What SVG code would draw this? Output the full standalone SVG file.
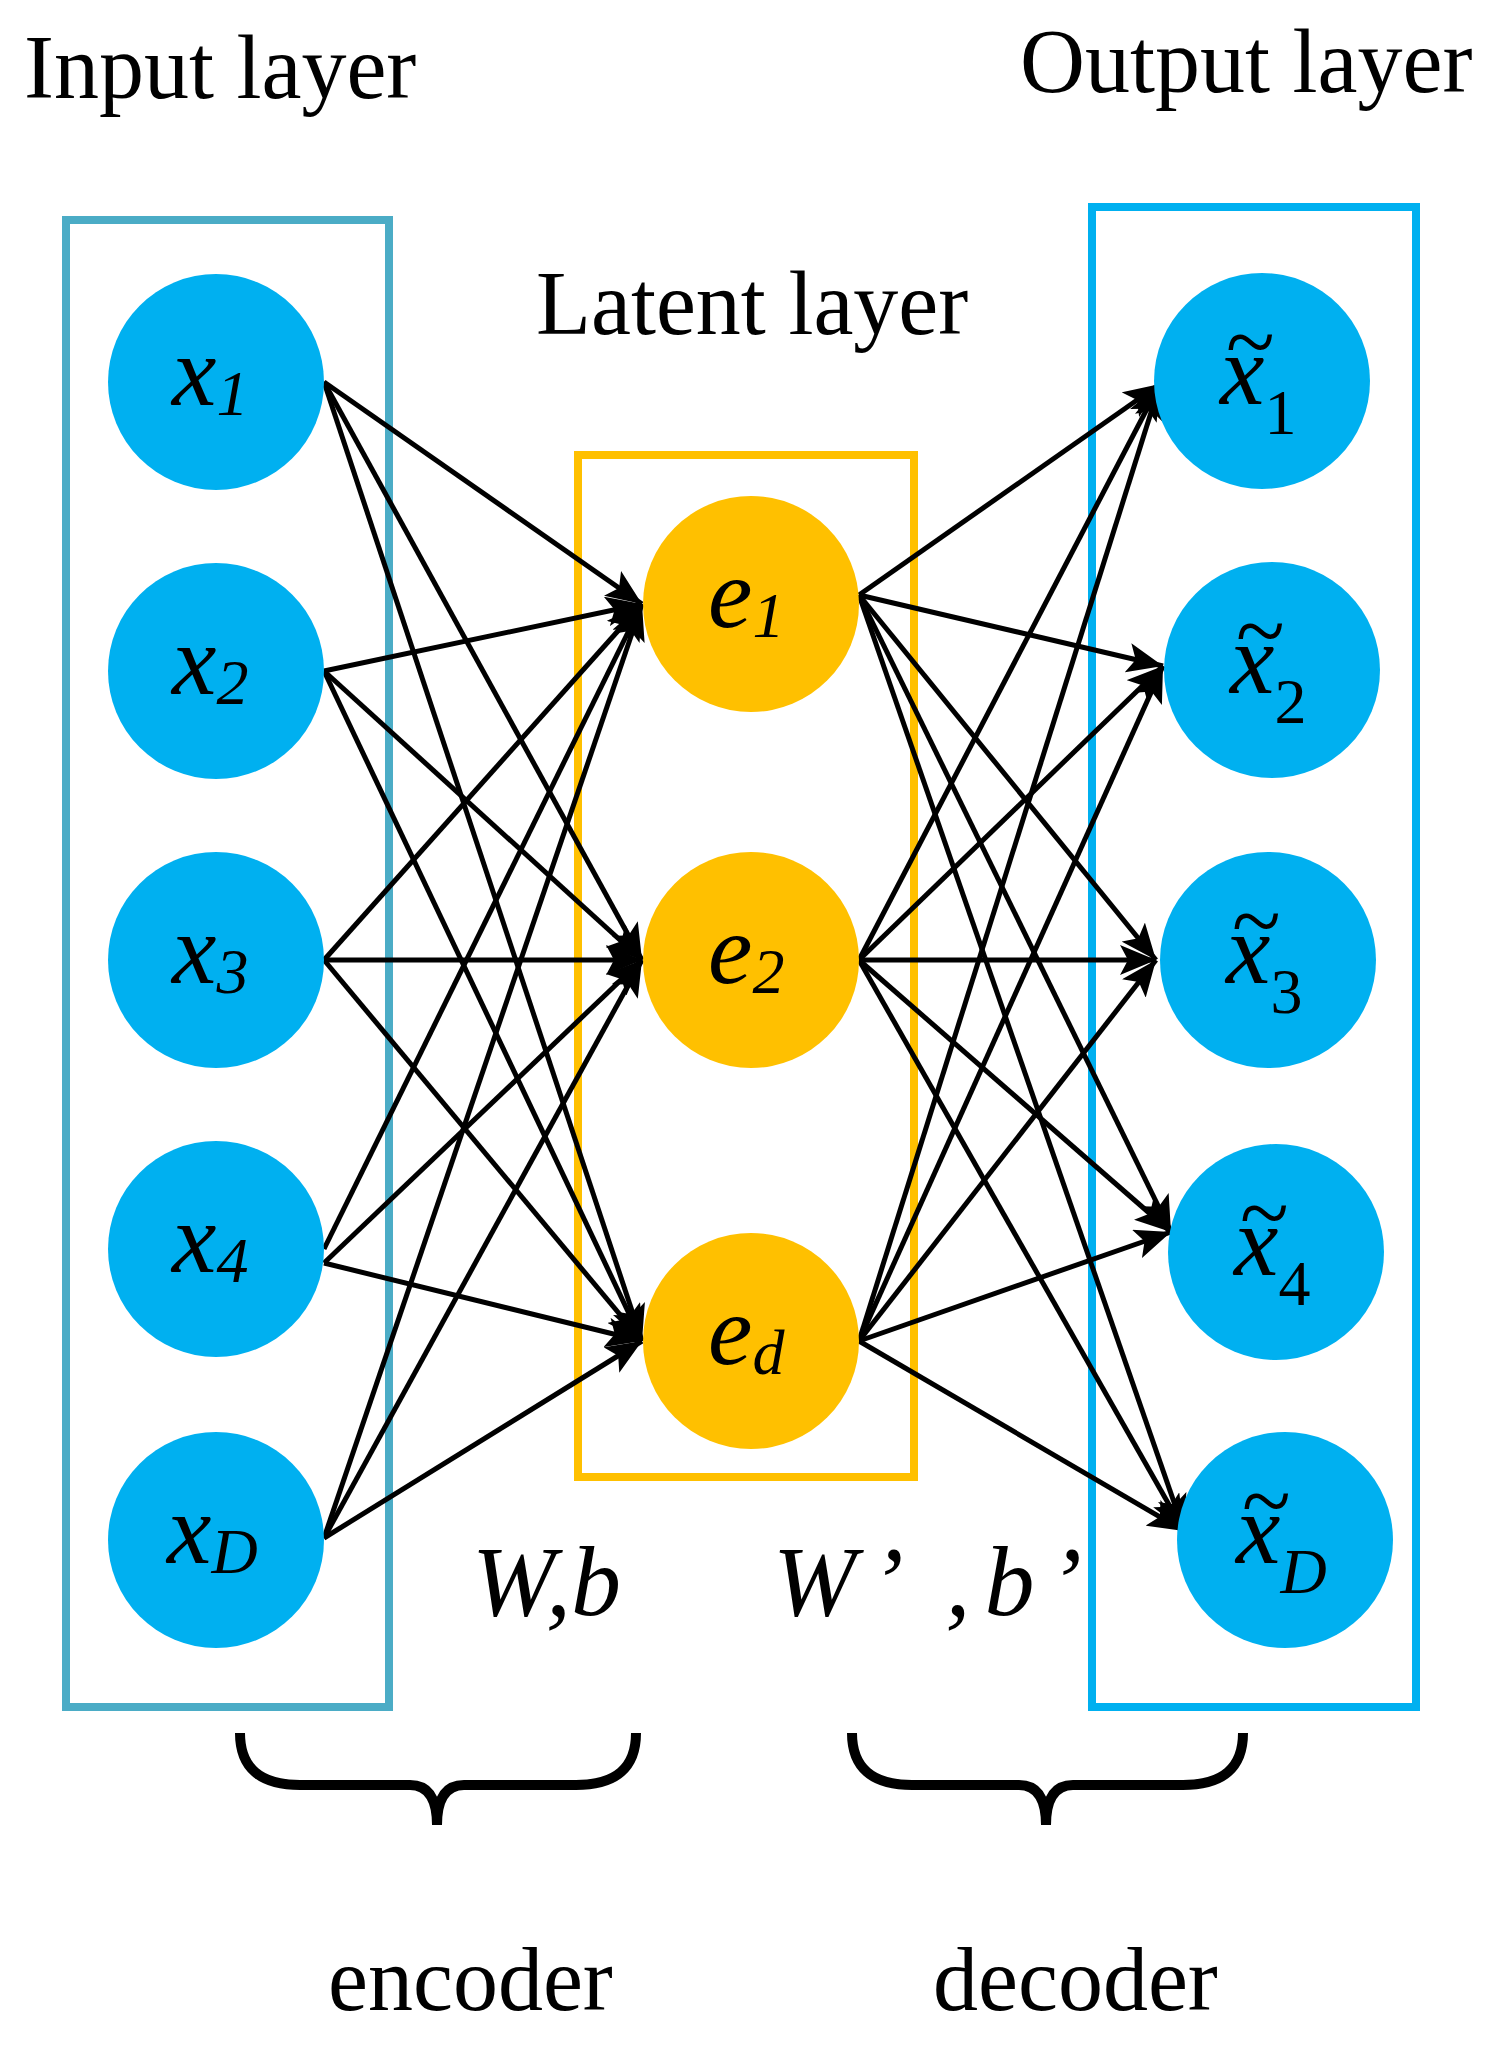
<svg xmlns="http://www.w3.org/2000/svg" width="1508" height="2047" viewBox="0 0 1508 2047">
<style>
.t{font-family:"Liberation Serif",serif;fill:#000}
.i{font-family:"Liberation Serif",serif;font-style:italic;fill:#000;font-size:100px}
.s{font-size:64px}
.u{font-style:normal}
.w{font-family:"Liberation Serif",serif;fill:#000;font-size:90px}
.b{fill:#00b0f0}
.y{fill:#ffc000}
.c line{stroke:#000;stroke-width:5;marker-end:url(#a)}
</style>
<defs>
<marker id="a" markerUnits="userSpaceOnUse" markerWidth="38" markerHeight="30" refX="36" refY="15" orient="auto"><path d="M0,0 L36,15 L0,30 L8,15 Z" fill="#000"/></marker>
</defs>
<rect x="66" y="220" width="323" height="1487" fill="none" stroke="#4bacc6" stroke-width="8"/>
<rect x="578" y="455" width="336" height="1022" fill="none" stroke="#ffc000" stroke-width="8"/>
<rect x="1092" y="207" width="324" height="1500" fill="none" stroke="#00b0f0" stroke-width="8"/>
<text class="t" x="24" y="98" font-size="90">Input layer</text>
<text class="t" x="1020" y="92" font-size="90">Output layer</text>
<text class="t" x="536" y="334" font-size="90">Latent layer</text>
<g class="c">
<line x1="324" y1="382" x2="642" y2="604"/><line x1="324" y1="382" x2="642" y2="960"/><line x1="324" y1="382" x2="642" y2="1341"/>
<line x1="324" y1="671" x2="642" y2="604"/><line x1="324" y1="671" x2="642" y2="960"/><line x1="324" y1="671" x2="642" y2="1341"/>
<line x1="324" y1="960" x2="642" y2="604"/><line x1="324" y1="960" x2="642" y2="960"/><line x1="324" y1="960" x2="642" y2="1341"/>
<line x1="324" y1="1249" x2="642" y2="604"/><line x1="324" y1="1263" x2="642" y2="960"/><line x1="324" y1="1263" x2="642" y2="1341"/>
<line x1="324" y1="1538" x2="642" y2="604"/><line x1="324" y1="1538" x2="642" y2="960"/><line x1="324" y1="1538" x2="642" y2="1341"/>
<line x1="859" y1="595" x2="1160" y2="384"/><line x1="859" y1="595" x2="1163" y2="666"/><line x1="859" y1="595" x2="1156" y2="960"/><line x1="859" y1="595" x2="1171" y2="1232"/><line x1="859" y1="595" x2="1184" y2="1531"/>
<line x1="859" y1="960" x2="1160" y2="384"/><line x1="859" y1="960" x2="1163" y2="666"/><line x1="859" y1="960" x2="1156" y2="960"/><line x1="859" y1="960" x2="1171" y2="1232"/><line x1="859" y1="960" x2="1184" y2="1531"/>
<line x1="859" y1="1341" x2="1160" y2="384"/><line x1="859" y1="1341" x2="1163" y2="666"/><line x1="859" y1="1341" x2="1156" y2="960"/><line x1="859" y1="1341" x2="1171" y2="1232"/><line x1="859" y1="1341" x2="1184" y2="1531"/>
</g>
<g id="x1"><circle class="b" cx="216" cy="382" r="108"/><text class="i" x="172" y="405">x<tspan class="s" dy="10">1</tspan></text></g>
<g id="x2"><circle class="b" cx="216" cy="671" r="108"/><text class="i" x="172" y="694">x<tspan class="s" dy="10">2</tspan></text></g>
<g id="x3"><circle class="b" cx="216" cy="960" r="108"/><text class="i" x="172" y="983">x<tspan class="s" dy="10">3</tspan></text></g>
<g id="x4"><circle class="b" cx="216" cy="1249" r="108"/><text class="i" x="172" y="1272">x<tspan class="s" dy="10">4</tspan></text></g>
<g id="xD"><circle class="b" cx="216" cy="1540" r="108"/><text class="i" x="167" y="1563">x<tspan class="s" dy="10">D</tspan></text></g>
<g id="e1"><circle class="y" cx="751" cy="604" r="108"/><text class="i" x="708" y="627">e<tspan class="s" dy="10">1</tspan></text></g>
<g id="e2"><circle class="y" cx="751" cy="960" r="108"/><text class="i" x="708" y="983">e<tspan class="s" dy="10">2</tspan></text></g>
<g id="ed"><circle class="y" cx="751" cy="1341" r="108"/><text class="i" x="708" y="1364">e<tspan class="s" dy="10">d</tspan></text></g>
<g id="o1"><circle class="b" cx="1262" cy="381" r="108"/><text class="w" x="1226" y="372">~</text><text class="i" x="1220" y="404">x<tspan class="s u" dy="30">1</tspan></text></g>
<g id="o2"><circle class="b" cx="1272" cy="670" r="108"/><text class="w" x="1236" y="661">~</text><text class="i" x="1230" y="693">x<tspan class="s u" dy="30">2</tspan></text></g>
<g id="o3"><circle class="b" cx="1268" cy="960" r="108"/><text class="w" x="1232" y="951">~</text><text class="i" x="1226" y="983">x<tspan class="s u" dy="30">3</tspan></text></g>
<g id="o4"><circle class="b" cx="1276" cy="1252" r="108"/><text class="w" x="1240" y="1243">~</text><text class="i" x="1234" y="1275">x<tspan class="s u" dy="30">4</tspan></text></g>
<g id="oD"><circle class="b" cx="1285" cy="1540" r="108"/><text class="w" x="1242" y="1531">~</text><text class="i" x="1236" y="1563">x<tspan class="s" dy="30">D</tspan></text></g>
<text class="i" x="472" y="1615" font-size="80">W,b</text>
<text class="i" x="773" y="1615" font-size="80" letter-spacing="14">W’ ,b’</text>
<path d="M240,1733 Q240,1785 300,1785 L410,1785 Q437,1785 437,1825 Q437,1785 464,1785 L576,1785 Q636,1785 636,1733" fill="none" stroke="#000" stroke-width="10"/>
<path d="M852,1733 Q852,1785 912,1785 L1019,1785 Q1046,1785 1046,1825 Q1046,1785 1073,1785 L1183,1785 Q1243,1785 1243,1733" fill="none" stroke="#000" stroke-width="10"/>
<text class="t" x="328" y="2010" font-size="90">encoder</text>
<text class="t" x="933" y="2010" font-size="90">decoder</text>
</svg>
